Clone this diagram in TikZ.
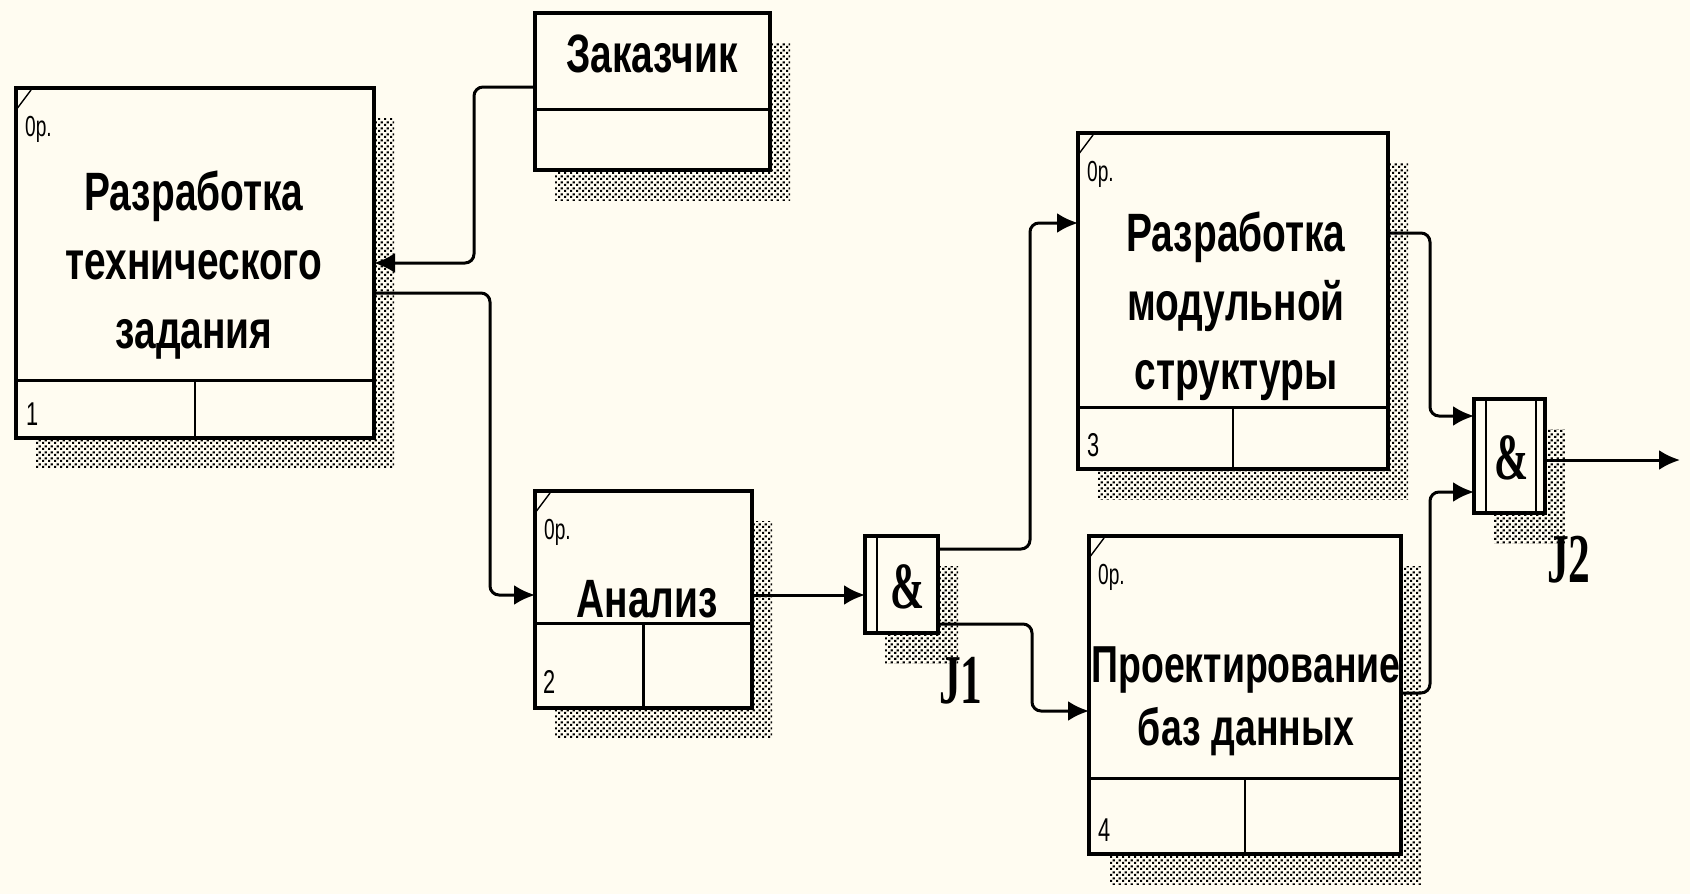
\documentclass[tikz,border=0pt]{standalone}
\usepackage{fontspec}
\usepackage{tikz}
\usetikzlibrary{calc,arrows.meta,shadows,patterns}
\newfontfamily\boxfont[FakeStretch=0.72]{Liberation Sans}
\newfontfamily\smallfont[FakeStretch=0.66]{Liberation Sans}
\newfontfamily\jfont[FakeStretch=0.62]{Liberation Serif}
\definecolor{paper}{HTML}{FFFCF1}
\definecolor{ink}{HTML}{000000}
% dotted shadow texture
\pgfdeclarepatternformonly{idefdots}{\pgfqpoint{0pt}{0pt}}{\pgfqpoint{6pt}{6pt}}{\pgfqpoint{6pt}{6pt}}{
  \pgfpathrectangle{\pgfqpoint{0pt}{0pt}}{\pgfqpoint{2.6pt}{2.4pt}}
  \pgfpathrectangle{\pgfqpoint{3pt}{3pt}}{\pgfqpoint{2.6pt}{2.4pt}}
  \pgfusepath{fill}
}
\tikzset{
  proc/.style={draw=ink, line width=3.4pt, fill=paper, inner sep=0pt, outer sep=0pt,
    drop shadow={shadow xshift=20pt, shadow yshift=-30pt, opacity=1, draw=none,
      fill=none, pattern=idefdots, pattern color=ink}},
  part/.style={draw=ink, line width=3pt},
  cell/.style={draw=ink, line width=2.4pt},
  corner/.style={draw=ink, line width=1.4pt},
  title/.style={text=ink, inner sep=0pt, align=center,
    font=\boxfont\bfseries\fontsize{54}{69}\selectfont},
  tag/.style={text=ink, inner sep=0pt, font=\smallfont\fontsize{29}{29}\selectfont},
  num/.style={text=ink, inner sep=0pt, font=\smallfont\fontsize{33}{33}\selectfont},
  amp/.style={text=ink, inner sep=0pt, font=\jfont\bfseries\fontsize{66}{66}\selectfont},
  jname/.style={text=ink, inner sep=0pt, font=\jfont\bfseries\fontsize{70}{70}\selectfont},
  flow/.style={draw=ink, line width=3pt, rounded corners=9pt,
    -{Latex[length=21pt,width=20pt]}},
}

\begin{document}
\begin{tikzpicture}[x=1pt, y=-1pt]
  \fill[paper] (0,0) rectangle (1690,894);
  \useasboundingbox (0,0) rectangle (1690,894);

  % work boxes
  \node[proc, minimum width=358, minimum height=350] (b1) at (195,263) {};
  \node[proc, minimum width=235, minimum height=157] (cust) at (652.5,91.5) {};
  \node[proc, minimum width=217, minimum height=217] (b2) at (643.5,599.5) {};
  \node[proc, minimum width=310, minimum height=336] (b3) at (1233,301) {};
  \node[proc, minimum width=312, minimum height=318] (b4) at (1245,695) {};

  % junctions
  \node[proc, minimum width=73, minimum height=97] (J1) at (901.5,584.5) {};
  \node[proc, minimum width=71, minimum height=114] (J2) at (1509.5,456) {};
  \draw[cell] ([xshift=12pt]J1.north west) -- ([xshift=12pt]J1.south west);
  \draw[cell] ([xshift=12pt]J2.north west) -- ([xshift=12pt]J2.south west);
  \draw[cell] ([xshift=-9pt]J2.north east) -- ([xshift=-9pt]J2.south east);
  \node[amp] (J1amp) at ([xshift=6pt,yshift=-2pt]J1.center) {\&};
  \node[amp] (J2amp) at ([xshift=2pt,yshift=-2pt]J2.center) {\&};
  \node[jname, anchor=base west] (J1name) at (939,703) {J1};
  \node[jname, anchor=base west] (J2name) at (1547,582) {J2};

  % bottom cells
  \draw[part] ([yshift=58pt]b1.south west) -- ([yshift=58pt]b1.south east);
  \draw[cell] ([yshift=58pt]b1.south) -- (b1.south);
  \draw[part] ([yshift=61pt]cust.south west) -- ([yshift=61pt]cust.south east);
  \draw[part] ([yshift=85pt]b2.south west) -- ([yshift=85pt]b2.south east);
  \draw[cell] ([yshift=85pt]b2.south) -- (b2.south);
  \draw[part] ([yshift=62pt]b3.south west) -- ([yshift=62pt]b3.south east);
  \draw[cell] ([yshift=62pt]b3.south) -- (b3.south);
  \draw[part] ([yshift=76pt]b4.south west) -- ([yshift=76pt]b4.south east);
  \draw[cell] ([yshift=76pt]b4.south) -- (b4.south);

  % corner marks and costs
  \foreach \b in {b1,b2,b3,b4}{
    \draw[corner] ([yshift=-22pt]\b.north west) -- ++(15,-20);
    \node[tag, anchor=base west] (\b op) at ([xshift=9pt,yshift=-48pt]\b.north west) {0р.};
  }
  \node[num, anchor=base west] (b1n) at ([xshift=10pt,yshift=13pt]b1.south west) {1};
  \node[num, anchor=base west] (b2n) at ([xshift=8pt,yshift=15pt]b2.south west) {2};
  \node[num, anchor=base west] (b3n) at ([xshift=9pt,yshift=13pt]b3.south west) {3};
  \node[num, anchor=base west] (b4n) at ([xshift=9pt,yshift=13pt]b4.south west) {4};

  % names
  \node[title] (b1t) at (194,265) {Разработка\\технического\\задания};
  \node[title, anchor=base] (custt) at (652,72) {Заказчик};
  \node[title, anchor=base] (b2t) at (647,617) {Анализ};
  \node[title] (b3t) at (1236,306) {Разработка\\модульной\\структуры};
  \node[title, font=\boxfont\bfseries\fontsize{52}{63}\selectfont] (b4t) at (1246,701)
    {Проектирование\\баз данных};

  % arrows
  \draw[flow] ([yshift=4.5pt]cust.west) -- ++(-61,0) |- (b1.east);
  \draw[flow] ([yshift=-30pt]b1.east) -- ++(116,0) |- ([yshift=4.5pt]b2.west);
  \draw[flow] ([yshift=4.5pt]b2.east) -- ([yshift=4.5pt]b2.east -| J1.west);
  \draw[flow] ([yshift=35.5pt]J1.east) -- ++(92,0) |- ([yshift=78pt]b3.west);
  \draw[flow] ([yshift=-39.5pt]J1.east) -- ++(94,0) |- ([yshift=-16pt]b4.west);
  \draw[flow] ([yshift=68pt]b3.east) -- ++(42,0) |- ([yshift=40pt]J2.west);
  \draw[flow] ([yshift=2pt]b4.east) -- ++(29,0) |- ([yshift=-36pt]J2.west);
  \coordinate (out) at (1680,460);
  \draw[flow] ([yshift=-4pt]J2.east) -- (out);
\end{tikzpicture}
\end{document}
